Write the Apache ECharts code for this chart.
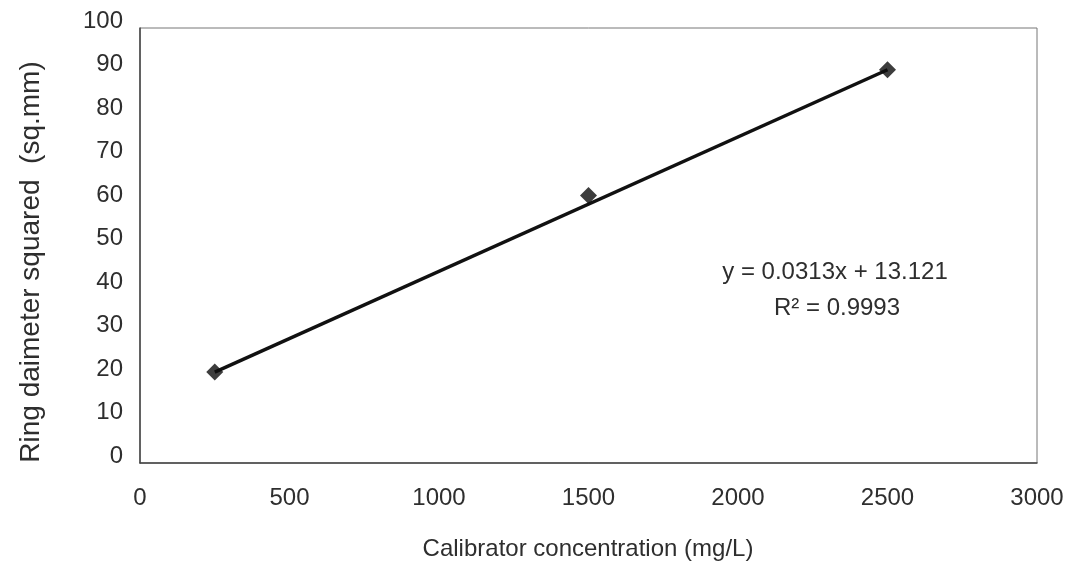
<!DOCTYPE html>
<html>
<head>
<meta charset="utf-8">
<script src="https://cdn.jsdelivr.net/npm/echarts@6/dist/echarts.min.js"></script>
<style>html,body{margin:0;padding:0;background:#fff;}#c{width:1072px;height:571px;}</style>
</head>
<body>
<div id="c"></div>
<script>
const xValues = [250, 1500, 2500];
const yValues = [20.9, 61.5, 90.4];
const trendX = [250, 2500];
const trendY = [20.9, 90.4];
const equationText = 'y = 0.0313x + 13.121';
const r2Text = 'R² = 0.9993';
const xTitle = 'Calibrator concentration (mg/L)';
const yTitle = 'Ring daimeter squared  (sq.mm)';

const chart = echarts.init(document.getElementById('c'));
const FONT = '"Liberation Sans", Arial, sans-serif';
chart.setOption({
  animation: false,
  backgroundColor: '#fff',
  grid: { left: 140, right: 35, top: 28, bottom: 108, show: true, borderColor: '#777', borderWidth: 1 },
  xAxis: {
    type: 'value', min: 0, max: 3000, interval: 500,
    axisLine: { show: true, lineStyle: { color: '#444', width: 1.5 } },
    axisTick: { show: false },
    splitLine: { show: false },
    axisLabel: { color: '#2e2e2e', fontFamily: FONT, fontSize: 24, margin: 23, formatter: v => String(v) }
  },
  yAxis: {
    type: 'value', min: 0, max: 100, interval: 10,
    axisLine: { show: true, lineStyle: { color: '#444', width: 1.5 } },
    axisTick: { show: false },
    splitLine: { show: false },
    axisLabel: { color: '#2e2e2e', fontFamily: FONT, fontSize: 24, margin: 17, verticalAlign: 'bottom', lineHeight: 14 }
  },
  graphic: [
    { type: 'text', x: 588, y: 549, style: { text: xTitle, font: '24px ' + FONT, fill: '#2e2e2e', align: 'center', verticalAlign: 'middle' } },
    { type: 'text', x: 31, y: 262, rotation: Math.PI / 2, style: { text: yTitle, font: '28px ' + FONT, fill: '#2e2e2e', align: 'center', verticalAlign: 'middle' } },
    { type: 'text', x: 835, y: 272, style: { text: equationText, font: '24px ' + FONT, fill: '#2e2e2e', align: 'center', verticalAlign: 'middle' } },
    { type: 'text', x: 837, y: 308, style: { text: r2Text, font: '24px ' + FONT, fill: '#2e2e2e', align: 'center', verticalAlign: 'middle' } }
  ],
  series: [
    {
      type: 'line', data: trendX.map((x, i) => [x, trendY[i]]),
      symbol: 'none', lineStyle: { color: '#111', width: 3.5 }, z: 2
    },
    {
      type: 'scatter', data: xValues.map((x, i) => [x, yValues[i]]),
      symbol: 'diamond', symbolSize: 17, itemStyle: { color: '#0c0c0c' }, z: 3
    }
  ]
});
</script>
</body>
</html>
